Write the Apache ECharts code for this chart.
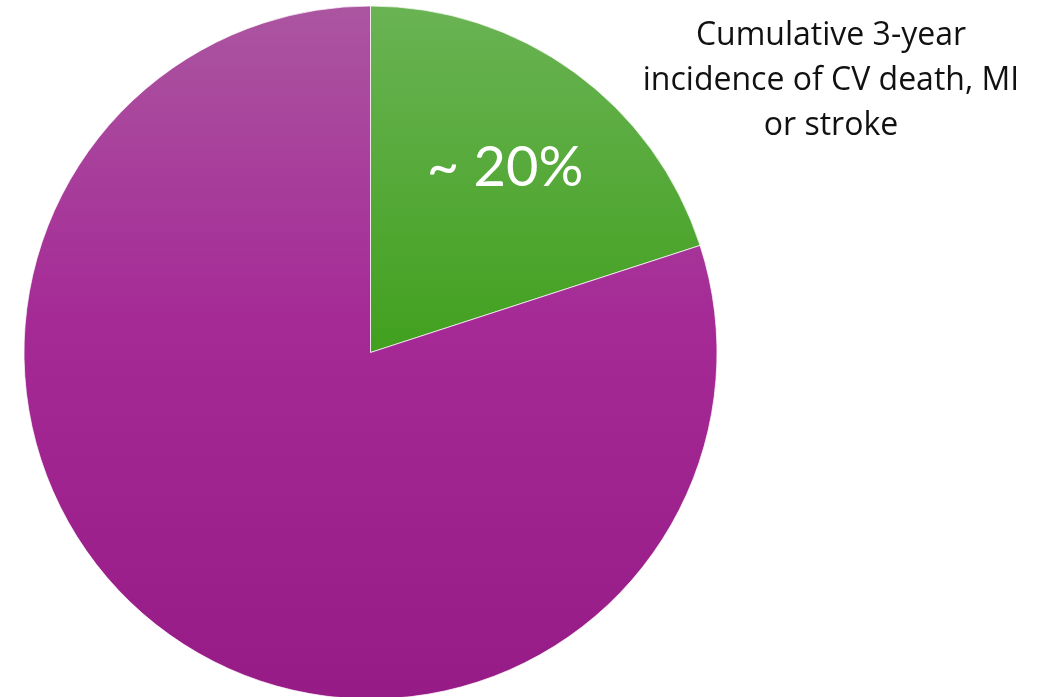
<!DOCTYPE html>
<html><head><meta charset="utf-8">
<script src="https://cdn.jsdelivr.net/npm/echarts@6/dist/echarts.min.js"></script>
<style>html,body{margin:0;padding:0;background:#fff}#c{width:1053px;height:697px}</style>
</head><body><div id="c"></div>
<script>
const categories = ['CV death, MI or stroke', 'No event'];
const values = [20, 80];
const sliceLabels = ['~ 20%', ''];
const titleLines = ['Cumulative 3-year', 'incidence of CV death, MI', 'or stroke'];

const colors = [
  {type:'linear',x:0,y:0,x2:0,y2:1,colorStops:[{offset:0,color:'#6ab354'},{offset:1,color:'#41a01e'}]},
  {type:'linear',x:0,y:0,x2:0,y2:1,colorStops:[{offset:0,color:'#ab55a0'},{offset:0.45,color:'#a52a96'},{offset:1,color:'#971b86'}]}
];

const chart = echarts.init(document.getElementById('c'), null, {renderer:'canvas'});
chart.setOption({
  animation:false,
  title:{
    text: titleLines.join('\n'),
    left: 826, top: 8, textAlign:'center',
    textStyle:{fontFamily:'Open Sans', fontSize:32, fontWeight:'normal', color:'#111', lineHeight:45}
  },
  series:[{
    type:'pie',
    center:[370.5, 352.5],
    radius:346.5,
    startAngle:90,
    clockwise:true,
    silent:true,
    data: categories.map((n,i)=>({
      name:n, value:values[i],
      itemStyle:{color:colors[i], borderColor:'rgba(255,255,255,0.7)', borderWidth:1},
      label:{show: !!sliceLabels[i], formatter: sliceLabels[i]}
    })),
    label:{position:'inside', offset:[31,-42], color:'#fff', fontFamily:'Lato', fontSize:56},
    labelLine:{show:false}
  }]
});
</script></body></html>
